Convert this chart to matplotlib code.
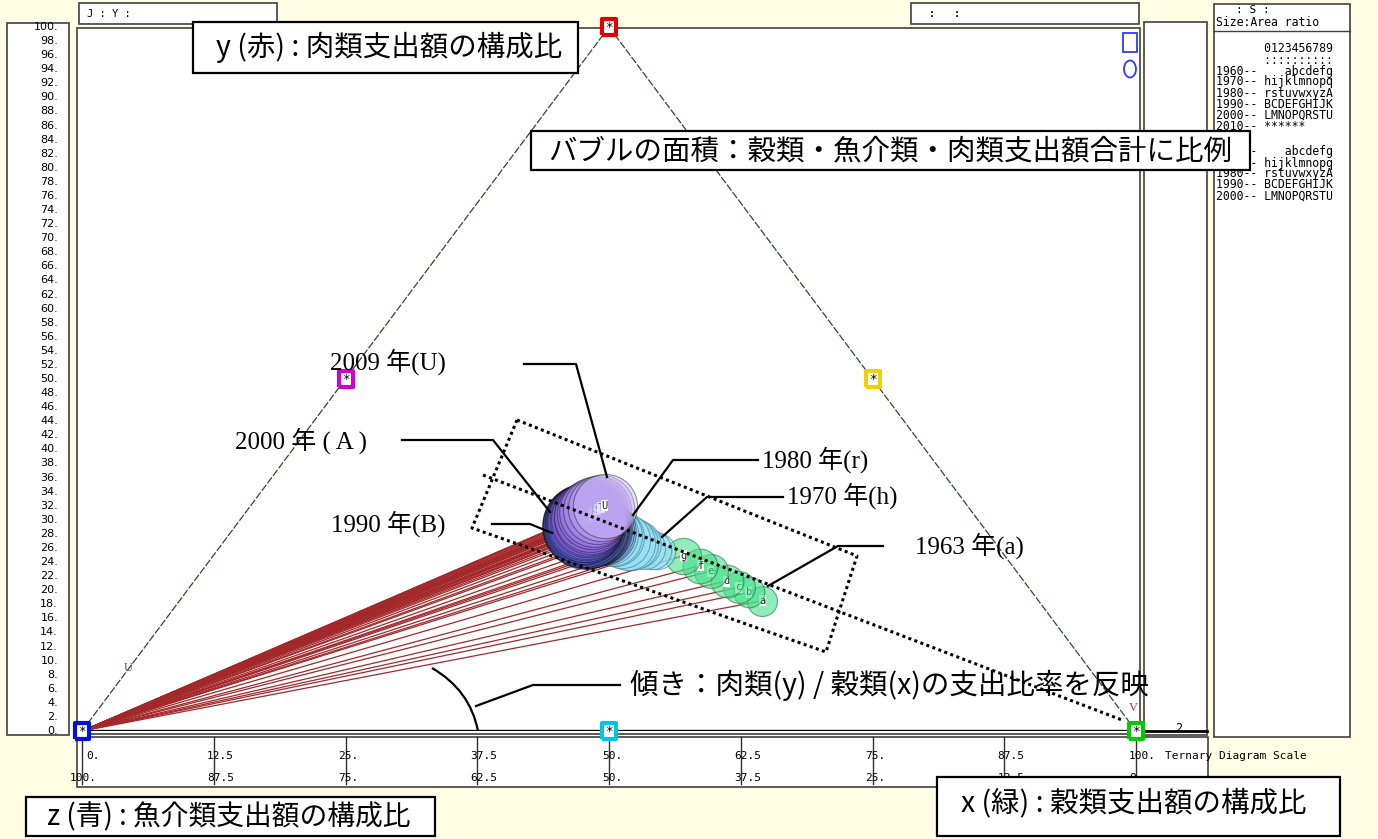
# Ternary bubble chart : 穀類 / 魚介類 / 肉類 expenditure shares, 1963-2009
import numpy as np
import matplotlib.pyplot as plt
from matplotlib.patches import Rectangle, Ellipse, PathPatch
from matplotlib.path import Path
from matplotlib.transforms import blended_transform_factory, ScaledTranslation

# ==========================================================
# Data
# ==========================================================
years = list(range(1963, 2010))
codes = list("abcdefg" "hijklmnopq" "rstuvwxyzA" "BCDEFGHIJK" "LMNOPQRSTU")

# x : 穀類 share (%), y : 肉類 share (%), z = 100 - x - y : 魚介類 share
grain_pct = [55.3, 53.4, 52.1, 50.5, 48.3, 46.9, 44.6,
             41.8, 41.2, 40.3, 39.4, 38.9, 38.5, 37.7, 36.8, 36.4, 35.8,
             35.3, 34.9, 34.6, 34.4, 34.2, 33.9, 33.8, 33.7, 33.6, 33.5,
             33.3, 33.1, 33.1, 33.0, 32.9, 32.8, 32.9, 32.9, 33.0, 32.9,
             32.9, 32.9, 33.0, 33.0, 32.9, 33.0, 33.0, 33.2, 33.4, 33.6]
meat_pct = [18.5, 19.7, 20.4, 21.3, 22.7, 23.5, 24.9,
            25.6, 25.7, 26.0, 26.5, 26.6, 26.7, 27.1, 27.6, 27.7, 28.0,
            28.3, 28.4, 28.6, 28.5, 28.6, 28.7, 28.7, 28.8, 28.8, 28.8,
            28.8, 29.0, 29.1, 29.1, 29.3, 29.4, 29.4, 29.5, 29.5, 29.7,
            29.8, 30.0, 30.1, 30.3, 30.5, 30.8, 31.1, 31.4, 31.7, 32.0]
# total of the three expenditures, 1963 = 100 (bubble area)
total_index = [100, 104, 113, 119, 128, 134, 146,
               148, 165, 196, 250, 300, 326, 350, 371, 398, 430,
               480, 515, 545, 575, 605, 640, 672, 676, 708, 712,
               745, 750, 748, 744, 720, 712, 705, 680, 676, 650,
               640, 612, 604, 580, 575, 548, 540, 512, 487, 458]

y_scale_ticks = list(range(0, 101, 2))
x_scale_ticks = [0, 12.5, 25, 37.5, 50, 62.5, 75, 87.5, 100]
x_scale_top = ["0.", "12.5", "25.", "37.5", "50.", "62.5", "75.", "87.5", "100."]
x_scale_bottom = ["100.", "87.5", "75.", "62.5", "50.", "37.5", "25.", "12.5", "0"]

legend_rows = ["       0123456789",
               "       ::::::::::",
               "1960--    abcdefg",
               "1970-- hijklmnopq",
               "1980-- rstuvwxyzA",
               "1990-- BCDEFGHIJK",
               "2000-- LMNOPQRSTU",
               "2010-- ******"]
legend_rows2 = ["1960--    abcdefg",
                "1970-- hijklmnopq",
                "1980-- rstuvwxyzA",
                "1990-- BCDEFGHIJK",
                "2000-- LMNOPQRSTU"]

# ==========================================================
# Style
# ==========================================================
plt.rcParams['font.family'] = ['DejaVu Sans', 'Noto Sans CJK JP']
MONO = 'DejaVu Sans Mono'
SERIF = ['Liberation Serif', 'Noto Sans CJK JP']
JP = ['Noto Sans CJK JP']
cream = '#fffde4'

W, H = 1378, 839
fig = plt.figure(figsize=(W / 100, H / 100), dpi=100, facecolor=cream)

bg = fig.add_axes([0, 0, 1, 1], zorder=0)
bg.set_xlim(0, W)
bg.set_ylim(H, 0)
bg.axis('off')

# ternary axes : X = x + y/2 , Y = y
ax = fig.add_axes([82 / W, (H - 731) / H, 1054 / W, 704 / H], zorder=1)
ax.set_xlim(0, 100)
ax.set_ylim(0, 100)
ax.axis('off')

fg = fig.add_axes([0, 0, 1, 1], zorder=2)
fg.set_xlim(0, W)
fg.set_ylim(H, 0)
fg.axis('off')


def panel(x0, y0, x1, y1):
    bg.add_patch(Rectangle((x0, y0), x1 - x0, y1 - y0, fc='white',
                           ec='#404040', lw=1.2, zorder=1))


# ==========================================================
# Frames
# ==========================================================
panel(7, 23, 69, 735)
panel(77, 28, 1140, 734)
panel(1144, 22, 1207, 735)
panel(77, 737, 1208, 787)
panel(79, 3, 277, 24)
panel(911, 3, 1139, 24)
panel(1214, 4, 1350, 737)
bg.plot([1214, 1350], [31, 31], color='#404040', lw=1, zorder=2)

bg.text(87, 14, "J : Y :", family=MONO, size=7.5, va='center', zorder=3)
bg.text(929, 14, ":   :", family=MONO, size=7.5, va='center',
        weight='bold', zorder=3)
bg.text(1236, 10, ": S :", family=MONO, size=8, va='center', zorder=3)
bg.text(1216, 22, "Size:Area ratio", family=MONO, size=8.3, va='center',
        zorder=3)

for row, yy in zip(legend_rows, [49, 60, 71, 82, 93, 104, 115, 126]):
    bg.text(1216, yy, row, family=MONO, size=8.3, va='center', zorder=3)
for row, yy in zip(legend_rows2, [152, 163, 174, 185, 196]):
    bg.text(1216, yy, row, family=MONO, size=8.3, va='center', zorder=3)

# left scale (y %)
ty = blended_transform_factory(bg.transData, ax.transData)
for v in y_scale_ticks:
    bg.text(58, v, f"{v}.", transform=ty, ha='right', va='center',
            size=8, zorder=3)


def scale_trans(dx_px):
    shift = ScaledTranslation(dx_px / 100, 0, fig.dpi_scale_trans)
    return blended_transform_factory(ax.transData + shift, bg.transData)


# bottom scale (x % and z %)
tx = blended_transform_factory(ax.transData, bg.transData)
for t, lt, lb in zip(x_scale_ticks, x_scale_top, x_scale_bottom):
    bg.plot([t, t], [737, 784], transform=tx, color='#303030', lw=1, zorder=3)
    off = 4 if lt == "0." else -7
    bg.text(t, 756, lt, transform=scale_trans(off), family=MONO, size=8,
            va='center', ha='left', zorder=4)
    offb = -12 if lb == "100." else -7
    bg.text(t, 778, lb, transform=scale_trans(offb), family=MONO, size=8,
            va='center', ha='left', zorder=4)

bg.text(1165, 756, "Ternary Diagram Scale", family=MONO, size=8, va='center', zorder=4)
bg.text(1175, 729, "2.", family=MONO, size=8.5, va='center', zorder=4)
bg.plot([1136, 1207], [731, 731], color='black', lw=2, zorder=3)

# ==========================================================
# Ternary triangle
# ==========================================================
edge_kw = dict(color='#2e4a2e', lw=0.9, ls=(0, (6, 1.5)), zorder=2)
ax.plot([0, 50], [0, 100], **edge_kw)
ax.plot([50, 100], [100, 0], **edge_kw)
ax.plot([0, 100], [0, 0], color='black', lw=2.4, solid_capstyle='butt', zorder=3)

X = np.array(grain_pct) + np.array(meat_pct) / 2
Y = np.array(meat_pct)

# slope lines from the 魚介類 corner
for xx, yy in zip(X, Y):
    ax.plot([0, xx], [0, yy], color='#a3282a', lw=0.9, zorder=4)

face = {1960: '#46e08a', 1970: '#98e0f4', 1980: '#7c9cf2', 1990: '#5c66e0'}
edge = {1960: '#2a6e48', 1970: '#3f7f95', 1980: 'black', 1990: 'black', 2000: '#1a1a1a'}
alpha = {1960: 0.6, 1970: 0.6, 1980: 0.42, 1990: 0.42, 2000: 0.45}
c0 = np.array([0x80, 0x58, 0xdc]) / 255
c1 = np.array([0xcd, 0xb9, 0xf8]) / 255

for i, (xx, yy, t, code, yr) in enumerate(zip(X, Y, total_index, codes, years)):
    dec = yr // 10 * 10
    if dec == 2000:
        f = ((yr - 2000) / 9) ** 2
        fc = tuple(c0 * (1 - f) + c1 * f)
    else:
        fc = face[dec]
    ax.scatter([xx], [yy], s=4.67 * t, color=fc, alpha=alpha[dec],
               edgecolors=edge[dec], linewidths=0.8, zorder=10 + 2 * i)
    ax.text(xx, yy, code, family=MONO, size=7.5, ha='center', va='center',
            color='#202020', zorder=11 + 2 * i,
            bbox=dict(fc='white', ec='none', pad=0.4))

# corner / mid-edge markers
vert_X = [0, 50, 100, 25, 75, 50]
vert_Y = [0, 100, 0, 50, 50, 0]
vert_col = ['#0010e0', '#e00000', '#00cc00', '#d000d0', '#f0d000', '#00c4e8']
rect_marker = [(-0.8, -1), (0.8, -1), (0.8, 1), (-0.8, 1), (-0.8, -1)]
for vx, vy, c in zip(vert_X, vert_Y, vert_col):
    ax.plot(vx, vy, marker=rect_marker, ms=12, mfc='white', mec=c, mew=3,
            clip_on=False, zorder=300)
    ax.text(vx, vy, '*', family=MONO, size=9, ha='center', va='center',
            zorder=301, clip_on=False)

# ==========================================================
# Annotations
# ==========================================================
fg.text(128, 668, 'U', color='#b83a3a', family='Liberation Serif', size=9,
        ha='center', va='center')
fg.text(1133, 708, 'V', color='#b83a3a', family='Liberation Serif', size=9,
        ha='center', va='center')

fg.add_patch(Rectangle((1123, 33), 14, 19, fc='none', ec='#2b3cff', lw=1.3))
fg.add_patch(Ellipse((1130, 69), 12, 17, fc='none', ec='#2b3cff', lw=1.3))

dot_kw = dict(color='black', lw=2.2, ls=(0, (1, 1.1)))
fg.plot([517, 857, 826, 472, 517], [420, 556, 652, 528, 420], **dot_kw)
fg.plot([483, 1122], [475, 720], **dot_kw)

year_notes = [("2009 年(U)", 330, 362, [524, 576, 607], [364, 364, 477]),
              ("2000 年 ( A )", 235, 441, [402, 493, 550], [440, 440, 512]),
              ("1980 年(r)", 762, 460, [758, 673, 633], [460, 460, 515]),
              ("1970 年(h)", 787, 496, [783, 707, 662], [497, 497, 537]),
              ("1990 年(B)", 331, 524, [492, 530, 552], [524, 524, 533]),
              ("1963 年(a)", 915, 546, [883, 838, 768], [546, 546, 586])]
for txt, lx, ly, px, py in year_notes:
    fg.text(lx, ly, txt, family=SERIF, size=18, ha='left', va='center')
    fg.plot(px, py, color='black', lw=1.6)

# slope note
fg.plot([620, 533, 476], [685, 685, 706], color='black', lw=1.6)
arc = Path([(432, 668), (470, 690), (478, 731)],
           [Path.MOVETO, Path.CURVE3, Path.CURVE3])
fg.add_patch(PathPatch(arc, fc='none', ec='black', lw=1.6))
fg.text(630, 685, "傾き：肉類(y) / 穀類(x)の支出比率を反映", family=JP,
        size=20.5, ha='left', va='center')


def note_box(x0, y0, x1, y1, txt, size, cx, cy):
    fg.add_patch(Rectangle((x0, y0), x1 - x0, y1 - y0, fc='white',
                           ec='black', lw=1.6, zorder=50))
    fg.text(cx, cy, txt, family=JP, size=size, ha='center', va='center',
            zorder=51)


note_box(193, 22, 578, 73, "y (赤) : 肉類支出額の構成比", 20.5, 389, 47)
note_box(531, 131, 1250, 170, "バブルの面積：穀類・魚介類・肉類支出額合計に比例",
         20.5, 890, 151)
note_box(26, 797, 435, 836, "z (青) : 魚介類支出額の構成比", 20, 229, 817)
note_box(937, 777, 1340, 836, "x (緑) : 穀類支出額の構成比", 20.5, 1134, 803)

fig.savefig("out.png", dpi=100, facecolor=cream)
